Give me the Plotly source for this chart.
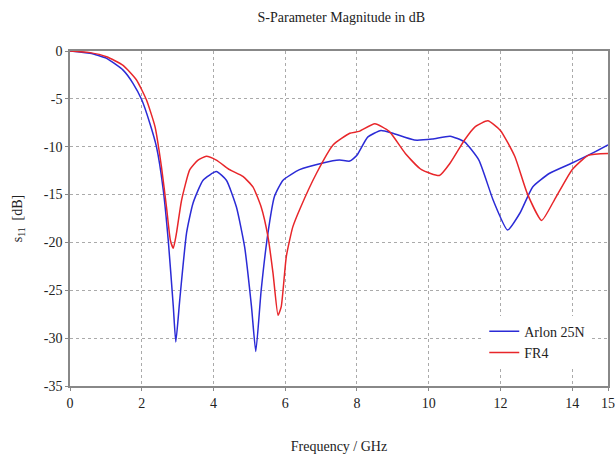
import plotly.graph_objects as go

freq_arlon = [0, 0.56, 1.02, 1.48, 1.76, 2.0, 2.23, 2.41, 2.6, 2.74, 2.88, 2.95, 3.06, 3.25, 3.43,
              3.71, 4.08, 4.36, 4.64, 4.87, 5.06, 5.18, 5.33, 5.52, 5.7, 5.94, 6.4, 7.05, 7.51,
              7.8, 8.0, 8.3, 8.67, 9.0, 9.6, 10.1, 10.6, 11.0, 11.4, 11.8, 12.2, 12.55, 12.9,
              13.36, 14.0, 14.55, 15.0]
s11_arlon = [0, -0.24, -0.77, -2.0, -3.4, -5.1, -7.6, -10.0, -14.5, -19.8, -26.7, -30.4, -26.0, -19.0, -15.9,
             -13.5, -12.6, -13.5, -16.3, -20.5, -26.7, -31.4, -25.0, -19.0, -15.2, -13.5, -12.4, -11.7, -11.4,
             -11.5, -10.9, -9.0, -8.3, -8.6, -9.3, -9.2, -8.9, -9.5, -11.4, -15.6, -18.7, -16.9, -14.2,
             -12.8, -11.7, -10.7, -9.8]

freq_fr4 = [0, 0.56, 1.02, 1.48, 1.85, 2.13, 2.37, 2.55, 2.69, 2.8, 2.88, 2.97, 3.11, 3.34, 3.57,
            3.8, 4.08, 4.45, 4.82, 5.1, 5.33, 5.52, 5.66, 5.8, 5.89, 6.03, 6.21, 6.41, 6.87,
            7.34, 7.8, 8.06, 8.5, 8.9, 9.35, 9.8, 10.3, 10.6, 11.0, 11.3, 11.65, 12.0, 12.4,
            12.75, 13.15, 13.5, 14.0, 14.45, 15.0]
s11_fr4 = [0, -0.17, -0.6, -1.5, -3.0, -5.1, -7.9, -12.1, -16.3, -19.8, -20.6, -19.0, -15.6, -12.4, -11.4,
           -11.0, -11.4, -12.4, -13.1, -14.2, -16.3, -19.4, -23.2, -27.6, -26.7, -21.5, -18.4, -16.5, -12.8,
           -9.8, -8.6, -8.4, -7.6, -8.4, -10.7, -12.4, -13.0, -11.7, -9.3, -7.9, -7.3, -8.3, -11.0,
           -14.9, -17.7, -15.6, -12.4, -10.9, -10.7]

x_ticks = [0, 2, 4, 6, 8, 10, 12, 14, 15]
y_ticks = [0, -5, -10, -15, -20, -25, -30, -35]
y_ticktext = ["0", "-5", "-10", "-15", "-20", "-25", "-30", "-35"]

font_family = "Liberation Serif, Times New Roman, serif"

fig = go.Figure()
fig.add_trace(go.Scatter(x=freq_arlon, y=s11_arlon, mode="lines", name="Arlon 25N",
                         line=dict(color="#2b2bd6", width=1.5, shape="spline", smoothing=0.5)))
fig.add_trace(go.Scatter(x=freq_fr4, y=s11_fr4, mode="lines", name="FR4",
                         line=dict(color="#e8262a", width=1.5, shape="spline", smoothing=0.5)))

fig.update_layout(
    width=615, height=454,
    margin=dict(l=70, r=7, t=51, b=68),
    paper_bgcolor="white", plot_bgcolor="white",
    font=dict(family=font_family, size=14, color="#222222"),
    title=dict(text="S-Parameter Magnitude in dB", x=0.555, xanchor="center", y=0.962, yanchor="middle",
               font=dict(family=font_family, size=14, color="#222222")),
    showlegend=True,
    legend=dict(x=0.77, y=0.21, xanchor="left", yanchor="top", bgcolor="rgba(255,255,255,1)",
                borderwidth=0, font=dict(family=font_family, size=14, color="#222222"),
                tracegroupgap=0, itemwidth=30),
)
fig.update_xaxes(range=[0, 15], tickvals=x_ticks, ticktext=[str(v) for v in x_ticks],
                 automargin=False,
                 showgrid=True, gridcolor="#aaaaaa", griddash="dot", gridwidth=1,
                 showline=True, linecolor="#888888", linewidth=1.5, mirror=True,
                 ticks="outside", ticklen=3, tickcolor="#888888", zeroline=False,
                 title=dict(text="Frequency / GHz", standoff=38, font=dict(family=font_family, size=14)))
fig.update_yaxes(range=[-35, 0], tickvals=y_ticks, ticktext=y_ticktext,
                 automargin=False,
                 showgrid=True, gridcolor="#aaaaaa", griddash="dot", gridwidth=1,
                 showline=True, linecolor="#888888", linewidth=1.5, mirror=True,
                 ticks="outside", ticklen=3, tickcolor="#888888", zeroline=False,
                 title=dict(text="s<sub>11</sub>  [dB]", standoff=18, font=dict(family=font_family, size=14)))

fig.write_html("out.html")
